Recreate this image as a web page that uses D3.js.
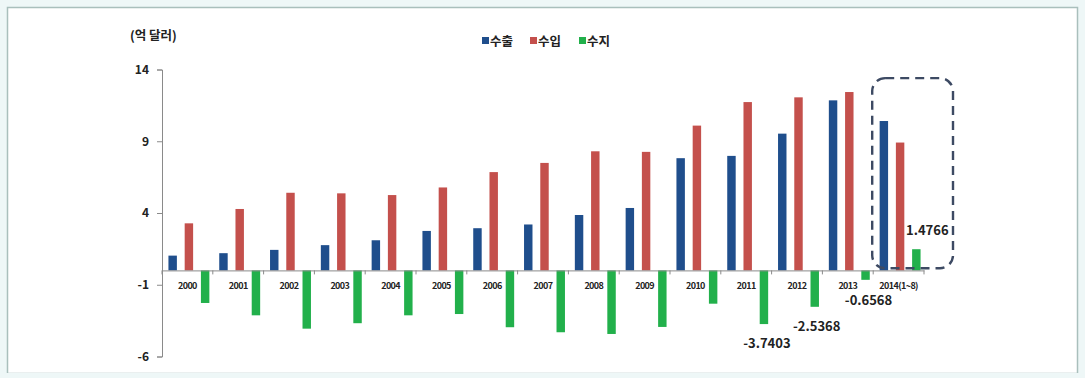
<!DOCTYPE html>
<html><head><meta charset="utf-8">
<script src="https://cdn.jsdelivr.net/npm/d3@7"></script>
<style>
html,body{margin:0;padding:0;background:#eef7f7;}
svg{display:block;}
text{font-family:"Noto Sans CJK KR","Noto Sans",sans-serif;font-weight:bold;fill:#222;}
</style></head>
<body>
<svg id="c" width="1085" height="378"></svg>
<script>
const categories = ["2000","2001","2002","2003","2004","2005","2006","2007","2008","2009","2010","2011","2012","2013","2014(1~8)"];
const seriesNames = ["수출","수입","수지"];
const exportsVals = [1.03,1.2,1.43,1.76,2.1,2.75,2.94,3.2,3.86,4.35,7.82,7.98,9.53,11.85,10.41];
const importsVals = [3.28,4.28,5.41,5.37,5.25,5.78,6.85,7.49,8.3,8.26,10.09,11.73,12.06,12.43,8.91];
const balanceVals = [-2.27,-3.13,-4.06,-3.68,-3.13,-3.04,-3.96,-4.31,-4.43,-3.94,-2.32,-3.7403,-2.5368,-0.6568,1.4766];
const yTicks = [-6,-1,4,9,14];
const colors = ["#1f4e8c","#c4504c","#22b04b"];
const annotated = [
  {cat:"2011", value:-3.7403, text:"-3.7403", dx:3, dy:24},
  {cat:"2012", value:-2.5368, text:"-2.5368", dx:2, dy:24},
  {cat:"2013", value:-0.6568, text:"-0.6568", dx:3, dy:25},
  {cat:"2014(1~8)", value:1.4766, text:"1.4766", dx:11, dy:-14}
];

const svg = d3.select("#c");
// frame
svg.append("rect").attr("x",7.5).attr("y",7.5).attr("width",1070).attr("height",366)
  .attr("fill","#ffffff").attr("stroke","#a9bfbc").attr("stroke-width",1.5);
svg.append("rect").attr("x",0).attr("y",373).attr("width",1085).attr("height",5).attr("fill","#eef7f7");

const x = d3.scaleBand().domain(categories).range([162,924]);
const bw = x.bandwidth();
const xs = d3.scaleBand().domain(seriesNames).range([1,bw+2]).paddingInner(0.48).paddingOuter(0.335);
const y = d3.scaleLinear().domain([-6,14]).range([356.5,69.5]);

// y axis
const ya = svg.append("g").attr("transform","translate(162,0)")
  .call(d3.axisLeft(y).tickValues(yTicks).tickSize(5).tickSizeOuter(5).tickPadding(8).tickFormat(d=>String(d)));
ya.selectAll("path,line").attr("stroke","#8a8a8a");
ya.selectAll("text").style("font-size","12px").style("font-family","'Noto Sans CJK KR',sans-serif").style("font-weight","bold").attr("fill","#222");

// bars
const seriesData = [exportsVals, importsVals, balanceVals];
seriesData.forEach((vals,si)=>{
  svg.append("g").selectAll("rect").data(vals).join("rect")
    .attr("x",(d,i)=>x(categories[i])+xs(seriesNames[si]))
    .attr("width",xs.bandwidth())
    .attr("y",d=>y(Math.max(0,d)))
    .attr("height",d=>Math.abs(y(d)-y(0)))
    .attr("fill",colors[si]);
});

// x axis
const xa = svg.append("g").attr("transform",`translate(0,${y(0)})`)
  .call(d3.axisBottom(x).tickSize(0).tickPadding(12).tickSizeOuter(0));
xa.select("path").attr("stroke","#8a8a8a");
xa.selectAll("text").style("font-size","9px").style("font-family","'Noto Sans CJK KR',sans-serif")
  .style("font-weight","bold").style("letter-spacing","-0.6px").attr("fill","#222");
const bounds = categories.map(c=>x(c)).concat([x(categories[categories.length-1])+bw]);
svg.append("g").selectAll("line").data(bounds).join("line")
  .attr("x1",d=>d).attr("x2",d=>d).attr("y1",y(0)).attr("y2",y(0)+4)
  .attr("stroke","#8a8a8a");

// value labels
svg.append("g").selectAll("text").data(annotated).join("text")
  .attr("x",d=>x(d.cat)+xs("수지")+xs.bandwidth()/2+d.dx)
  .attr("y",d=>y(d.value)+d.dy)
  .attr("text-anchor","middle").style("font-size","13px").text(d=>d.text);

// dashed highlight box
const last = categories[categories.length-1];
svg.append("rect").attr("x",x(last)-1).attr("y",y(13.4)).attr("width",bw+30)
  .attr("height",y(0.15)-y(13.4)).attr("rx",13).attr("ry",13)
  .attr("fill","none").attr("stroke","#3d4a63").attr("stroke-width",2.4).attr("stroke-dasharray","9,6");

// unit label
svg.append("text").attr("x",130).attr("y",40).style("font-size","12.5px").text("(억 달러)");

// legend
const leg = svg.append("g").attr("transform","translate(482,0)");
const legX = [0,48,97];
seriesNames.forEach((s,i)=>{
  leg.append("rect").attr("x",legX[i]).attr("y",37).attr("width",7).attr("height",7).attr("fill",colors[i]);
  leg.append("text").attr("x",legX[i]+8).attr("y",46).style("font-size","12.5px").text(s);
});
</script>
</body></html>
